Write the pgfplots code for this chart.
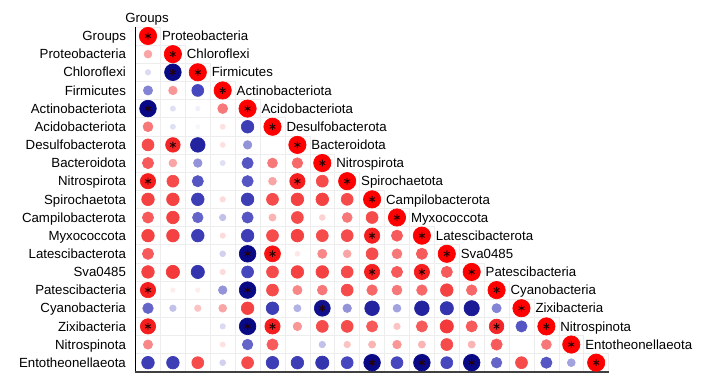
\documentclass[border=0pt]{standalone}
\usepackage{pgfplots}
\usepackage{pgfplotstable}
\pgfplotsset{compat=1.18}
\usepackage{fontspec}
\setmainfont{Liberation Sans}
\pgfplotstableread{
c r v
0 0 1
0 1 0.3
1 1 1
0 2 -0.12
1 2 -0.95
2 2 1
0 3 -0.4
1 3 0.35
2 3 -0.6
3 3 1
0 4 -0.95
1 4 -0.1
2 4 -0.05
3 4 0.45
4 4 1
0 5 0.45
1 5 -0.1
2 5 -0.03
3 5 0.1
4 5 -0.65
5 5 1
0 6 0.6
1 6 0.8
2 6 -0.8
3 6 0.1
4 6 -0.35
6 6 1
0 7 0.55
1 7 0.3
2 7 -0.35
3 7 -0.1
4 7 -0.55
5 7 0.45
6 7 0.5
7 7 1
0 8 0.85
1 8 0.6
2 8 -0.55
4 8 -0.55
5 8 0.3
6 8 0.85
7 8 0.6
8 8 1
0 9 0.65
1 9 0.65
2 9 -0.65
3 9 0.12
4 9 -0.65
5 9 0.6
6 9 0.65
7 9 0.65
8 9 0.6
9 9 1
0 10 0.55
1 10 0.65
2 10 -0.5
3 10 -0.2
4 10 -0.55
5 10 0.25
6 10 0.6
7 10 0.15
8 10 0.45
9 10 0.6
10 10 1
0 11 0.65
1 11 0.65
2 11 -0.65
3 11 0.12
4 11 -0.65
5 11 0.6
6 11 0.65
7 11 0.6
8 11 0.6
9 11 0.85
10 11 0.55
11 11 1
0 12 0.55
3 12 -0.15
4 12 -0.95
5 12 0.9
6 12 0.08
7 12 0.4
8 12 0.3
9 12 0.6
10 12 0.45
11 12 0.55
12 12 1
0 13 0.65
1 13 0.7
2 13 -0.7
3 13 0.12
4 13 -0.6
5 13 0.6
6 13 0.65
7 13 0.65
8 13 0.6
9 13 0.85
10 13 0.55
11 13 0.85
12 13 0.55
13 13 1
0 14 0.85
1 14 0.06
2 14 0.06
3 14 -0.35
4 14 -0.95
5 14 0.6
6 14 0.4
7 14 0.45
8 14 0.6
9 14 0.5
10 14 0.45
11 14 0.5
12 14 0.65
13 14 0.5
14 14 1
0 15 -0.5
1 15 -0.2
2 15 0.2
3 15 0.3
4 15 0.65
5 15 -0.65
6 15 -0.25
7 15 -0.9
8 15 -0.35
9 15 -0.8
10 15 -0.3
11 15 -0.8
12 15 -0.7
13 15 -0.85
14 15 -0.4
15 15 1
0 16 0.85
3 16 -0.12
4 16 -0.95
5 16 0.85
6 16 0.35
7 16 0.6
8 16 0.6
9 16 0.55
10 16 0.2
11 16 0.55
12 16 0.7
13 16 0.55
14 16 0.8
15 16 -0.55
16 16 1
0 17 0.4
3 17 0.1
4 17 -0.5
5 17 0.55
7 17 -0.2
8 17 0.2
9 17 0.25
10 17 0.35
11 17 0.25
12 17 0.6
13 17 0.25
14 17 0.55
16 17 0.45
17 17 1
0 18 -0.65
1 18 -0.65
2 18 0.6
3 18 -0.15
4 18 0.6
5 18 -0.65
6 18 -0.65
7 18 -0.7
8 18 -0.6
9 18 -0.95
10 18 -0.6
11 18 -0.95
12 18 -0.6
13 18 -0.95
14 18 -0.5
15 18 0.6
16 18 -0.55
17 18 -0.3
18 18 1
}\corrdata
\begin{document}
\begin{tikzpicture}
\fontsize{7.95}{9.5}\selectfont
\begin{axis}[
  x=14.94pt, y=10.89pt, y dir=reverse,
  anchor=origin, at={(0,0)}, disabledatascaling,
  xmin=-0.5, xmax=18.5, ymin=-0.5, ymax=18.5,
  clip=false,
  axis line style={draw=none},
  xtick=\empty,
  ytick={0,...,18},
  yticklabels={Groups,Proteobacteria,Chloroflexi,Firmicutes,Actinobacteriota,Acidobacteriota,Desulfobacterota,Bacteroidota,Nitrospirota,Spirochaetota,Campilobacterota,Myxococcota,Latescibacterota,Sva0485,Patescibacteria,Cyanobacteria,Zixibacteria,Nitrospinota,Entotheonellaeota},
  major tick length=0pt,
  yticklabel style={font=\fontsize{7.95}{9.5}\selectfont, anchor=base east, inner sep=0pt, xshift=-5.6pt, yshift=-2.8pt},
  colormap={corr}{rgb255(0cm)=(0,0,125); rgb255(2cm)=(35,35,160); rgb255(4cm)=(70,70,190); rgb255(10cm)=(255,255,255); rgb255(16cm)=(245,75,75); rgb255(18cm)=(242,38,38); rgb255(20cm)=(255,0,0)},
  point meta min=-1, point meta max=1,
]
\pgfplotsextra{
  \foreach \r in {0,...,18}{
    \foreach \c in {0,...,\r}{
      \draw[black!7, line width=0.35pt] (axis cs:\c-0.5,\r-0.5) rectangle (axis cs:\c+0.5,\r+0.5);
    }
  }
}
\addplot[scatter, only marks, mark=*, scatter src=explicit,
  scatter/use mapped color={draw=mapped color, fill=mapped color},
  visualization depends on={5.2*(0.22+0.78*abs(\thisrow{v})) \as \rad},
  scatter/@pre marker code/.append style={/tikz/mark size=\rad pt}]
  table[x=c, y=r, meta=v] {\corrdata};
\addplot[only marks, mark=asterisk, mark size=2pt, black!75!red!60!black, line width=0.55pt] coordinates {
(0,0) (1,1) (1,2) (2,2) (3,3) (0,4) (4,4) (5,5) (1,6) (6,6) (7,7) (0,8) (6,8) (8,8) (9,9) (10,10) (9,11) (11,11) (4,12) (5,12) (12,12) (9,13) (11,13) (13,13) (0,14) (4,14) (14,14) (7,15) (15,15) (0,16) (4,16) (5,16) (14,16) (16,16) (17,17) (9,18) (11,18) (13,18) (18,18)};
\pgfplotsextra{
  \foreach \r/\name in {0/Proteobacteria,1/Chloroflexi,2/Firmicutes,3/Actinobacteriota,4/Acidobacteriota,5/Desulfobacterota,6/Bacteroidota,7/Nitrospirota,8/Spirochaetota,9/Campilobacterota,10/Myxococcota,11/Latescibacterota,12/Sva0485,13/Patescibacteria,14/Cyanobacteria,15/Zixibacteria,16/Nitrospinota,17/Entotheonellaeota}{
    \node[anchor=base west, inner sep=0pt, yshift=-2.8pt] at (axis cs:\r+0.55,\r) {\name};
  }
  \node[anchor=base, inner sep=0pt, yshift=-2.8pt] at (axis cs:-0.04,-1.02) {Groups};
  \draw[black, line width=0.7pt] (axis cs:-0.5,-0.5) -- (axis cs:-0.5,18.5);
  \draw[black!75, line width=0.9pt] (axis cs:-0.53,18.5) -- (axis cs:18.5,18.5);
}
\coordinate (bbA) at (axis cs:-5.944,-1.983);
\coordinate (bbB) at (axis cs:22.41,19.34);
\end{axis}
\pgfresetboundingbox
\path[use as bounding box] (bbA) rectangle (bbB);
\end{tikzpicture}
\end{document}
